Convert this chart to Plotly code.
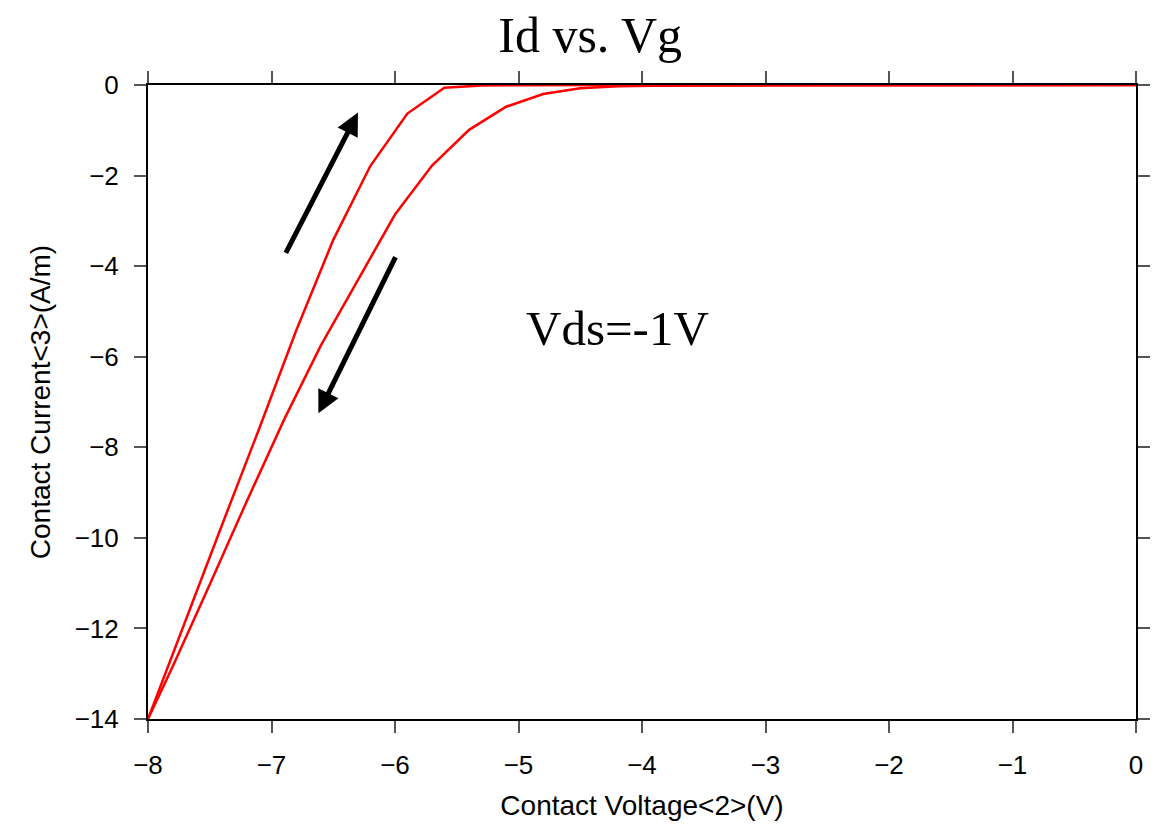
import plotly.graph_objects as go

# Forward sweep (Vg from -8 V up to 0 V)
vg_forward = [-8.0, -7.7, -7.4, -7.1, -6.8, -6.5, -6.2, -5.9, -5.6, -5.3,
              -5.0, -4.7, -4.4, -4.1, -3.8, -3.5, -3.2, -2.9, -2.6, -2.3,
              -2.0, -1.7, -1.4, -1.1, -0.8, -0.5, -0.2, 0.0]
id_forward = [-14.0, -11.84, -9.71, -7.59, -5.42, -3.42, -1.79, -0.63, -0.06, -0.01,
              -0.004, -0.002, -0.001, 0.0, 0.0, 0.0, 0.0, 0.0, 0.0, 0.0,
              0.0, 0.0, 0.0, 0.0, 0.0, 0.0, 0.0, 0.0]

# Reverse sweep (Vg from 0 V back down to -8 V)
vg_reverse = [0.0, -0.3, -0.6, -0.9, -1.2, -1.5, -1.8, -2.1, -2.4, -2.7,
              -3.0, -3.3, -3.6, -3.9, -4.2, -4.5, -4.8, -5.1, -5.4, -5.7,
              -6.0, -6.3, -6.6, -6.9, -7.2, -7.5, -7.8, -8.0]
id_reverse = [0.0, 0.0, 0.0, 0.0, 0.0, 0.0, 0.0, 0.0, 0.0, -0.001,
              -0.002, -0.004, -0.007, -0.015, -0.03, -0.07, -0.2, -0.48, -0.99, -1.78,
              -2.86, -4.29, -5.75, -7.4, -9.19, -11.03, -12.84, -14.0]

x_ticks = [-8, -7, -6, -5, -4, -3, -2, -1, 0]
y_ticks = [0, -2, -4, -6, -8, -10, -12, -14]


def tick_text(values):
    return [("\u2212" + str(-v)) if v < 0 else str(v) for v in values]


line_style = dict(color="#ff0000", width=2.5)

fig = go.Figure()
fig.add_trace(go.Scatter(x=vg_forward, y=id_forward, mode="lines", line=line_style, showlegend=False))
fig.add_trace(go.Scatter(x=vg_reverse, y=id_reverse, mode="lines", line=line_style, showlegend=False))

sans = "Liberation Sans, Arial, sans-serif"
serif = "Liberation Serif, DejaVu Serif, serif"

axis_common = dict(
    showgrid=False, zeroline=False,
    showline=True, linecolor="black", linewidth=2, mirror="allticks",
    ticks="outside", ticklen=12, tickwidth=1.5, tickcolor="#555555",
    ticklabelstandoff=10,
    tickfont=dict(family=sans, size=26, color="black"),
)

fig.update_xaxes(
    range=[-8, 0], tickvals=x_ticks, ticktext=tick_text(x_ticks),
    title=dict(text="Contact Voltage<2>(V)", standoff=16,
               font=dict(family=sans, size=28, color="black")),
    **axis_common,
)
fig.update_yaxes(
    range=[-14, 0], tickvals=y_ticks, ticktext=tick_text(y_ticks),
    title=dict(text="Contact Current<3>(A/m)", standoff=16,
               font=dict(family=sans, size=28, color="black")),
    **axis_common,
)

# Sweep direction arrows
arrow_style = dict(xref="x", yref="y", axref="x", ayref="y", text="", showarrow=True,
                   arrowhead=2, arrowsize=0.9, arrowwidth=5, arrowcolor="black", standoff=0)
fig.add_annotation(x=-6.30, y=-0.61, ax=-6.89, ay=-3.74, **arrow_style)
fig.add_annotation(x=-6.62, y=-7.25, ax=-5.99, ay=-3.77, **arrow_style)

fig.add_annotation(x=-4.2, y=-5.38, xref="x", yref="y", text="Vds=-1V", showarrow=False,
                   font=dict(family=serif, size=49, color="black"))

fig.update_layout(
    width=1171, height=828,
    margin=dict(l=148, r=35, t=85, b=106),
    paper_bgcolor="white", plot_bgcolor="white",
    title=dict(text="Id vs. Vg", x=0.504, xref="container", xanchor="center",
               y=0.958, yref="container", yanchor="middle",
               font=dict(family=serif, size=50, color="black")),
)

fig.write_html("out.html")
